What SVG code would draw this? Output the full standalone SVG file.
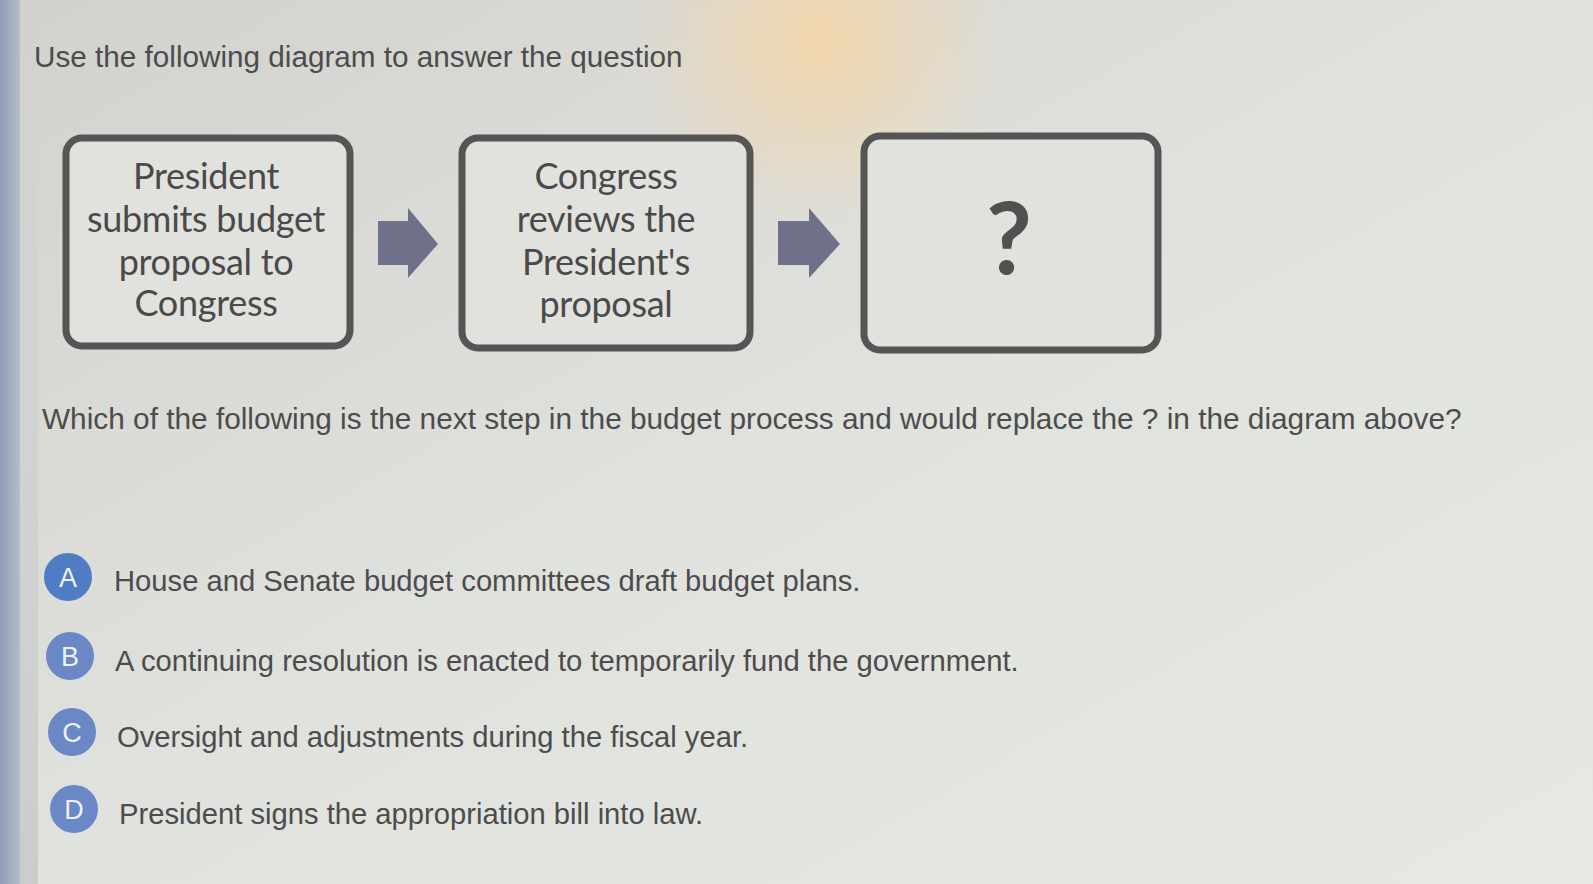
<svg xmlns="http://www.w3.org/2000/svg" width="1593" height="884" viewBox="0 0 1593 884">
<defs>
<linearGradient id="bg" x1="0" y1="0" x2="1" y2="1">
<stop offset="0" stop-color="#d2d1ce"/>
<stop offset="0.5" stop-color="#e0e2de"/>
<stop offset="1" stop-color="#e6e8e4"/>
</linearGradient>
<radialGradient id="glow" cx="820" cy="40" r="190" gradientUnits="userSpaceOnUse">
<stop offset="0" stop-color="#f4d6a8" stop-opacity="0.9"/>
<stop offset="1" stop-color="#f4d6a8" stop-opacity="0"/>
</radialGradient>
<linearGradient id="strip" x1="0" y1="0" x2="1" y2="0">
<stop offset="0" stop-color="#8f9cb6"/>
<stop offset="1" stop-color="#b4bccb"/>
</linearGradient>
<linearGradient id="band" x1="0" y1="0" x2="0" y2="1">
<stop offset="0" stop-color="#c9cbc9" stop-opacity="0"/>
<stop offset="1" stop-color="#c4c7c6" stop-opacity="0.8"/>
</linearGradient>
</defs>
<style>
.box{fill:#e1e2de;stroke:#555555;stroke-width:7}
.bt{font-family:Lato,"Open Sans",sans-serif;font-size:36px;letter-spacing:-0.3px;fill:#4a4a4a;text-anchor:middle}
.q{font-family:"Liberation Sans",Arial,sans-serif;font-size:29.2px;fill:#4c4c4c}
.arrow{fill:#6e7189}
.opt{fill:#6a88c6}
.ol{font-family:"Liberation Sans",Arial,sans-serif;font-size:27px;fill:#eef1f8;text-anchor:middle}
</style>
<rect width="1593" height="884" fill="url(#bg)"/>
<rect x="0" y="0" width="1593" height="300" fill="url(#glow)"/>
<rect x="0" y="0" width="20" height="884" fill="url(#strip)"/>
<rect x="20" y="0" width="18" height="884" fill="url(#band)"/>

<text class="q" x="34" y="67" style="font-size:29.7px">Use the following diagram to answer the question</text>

<g id="node1">
<rect class="box" x="66" y="138" width="284" height="208" rx="16"/>
<text class="bt" x="206" y="189">President</text>
<text class="bt" x="206" y="232">submits budget</text>
<text class="bt" x="206" y="275">proposal to</text>
<text class="bt" x="206" y="316">Congress</text>
</g>
<g id="node2">
<rect class="box" x="462" y="138" width="288" height="210" rx="16"/>
<text class="bt" x="606" y="189">Congress</text>
<text class="bt" x="606" y="232">reviews the</text>
<text class="bt" x="606" y="275">President's</text>
<text class="bt" x="606" y="317">proposal</text>
</g>
<g id="node3">
<rect class="box" x="864" y="136" width="294" height="214" rx="16"/>
<text x="1009" y="274" font-family="Lato,'Open Sans',sans-serif" font-weight="bold" font-size="100" fill="#505050" text-anchor="middle">?</text>
</g>
<g id="connectors">
<polygon class="arrow" points="378,221 408,221 408,208 438,244 408,278 408,265 378,265"/>
<polygon class="arrow" points="778,221 809,221 809,208 840,244 809,278 809,265 778,265"/>
</g>

<text class="q" x="42" y="429" style="font-size:29.8px">Which of the following is the next step in the budget process and would replace the ? in the diagram above?</text>

<g id="optA">
<circle class="opt" cx="68" cy="577" r="24" style="fill:#4f7cc3"/>
<text class="ol" x="68" y="587">A</text>
<text class="q" x="114" y="591">House and Senate budget committees draft budget plans.</text>
</g>
<g id="optB">
<circle class="opt" cx="70" cy="656" r="24"/>
<text class="ol" x="70" y="666">B</text>
<text class="q" x="115" y="671">A continuing resolution is enacted to temporarily fund the government.</text>
</g>
<g id="optC">
<circle class="opt" cx="72" cy="732" r="24"/>
<text class="ol" x="72" y="742">C</text>
<text class="q" x="117" y="747">Oversight and adjustments during the fiscal year.</text>
</g>
<g id="optD">
<circle class="opt" cx="74" cy="809" r="24"/>
<text class="ol" x="74" y="819">D</text>
<text class="q" x="119" y="824">President signs the appropriation bill into law.</text>
</g>
</svg>
